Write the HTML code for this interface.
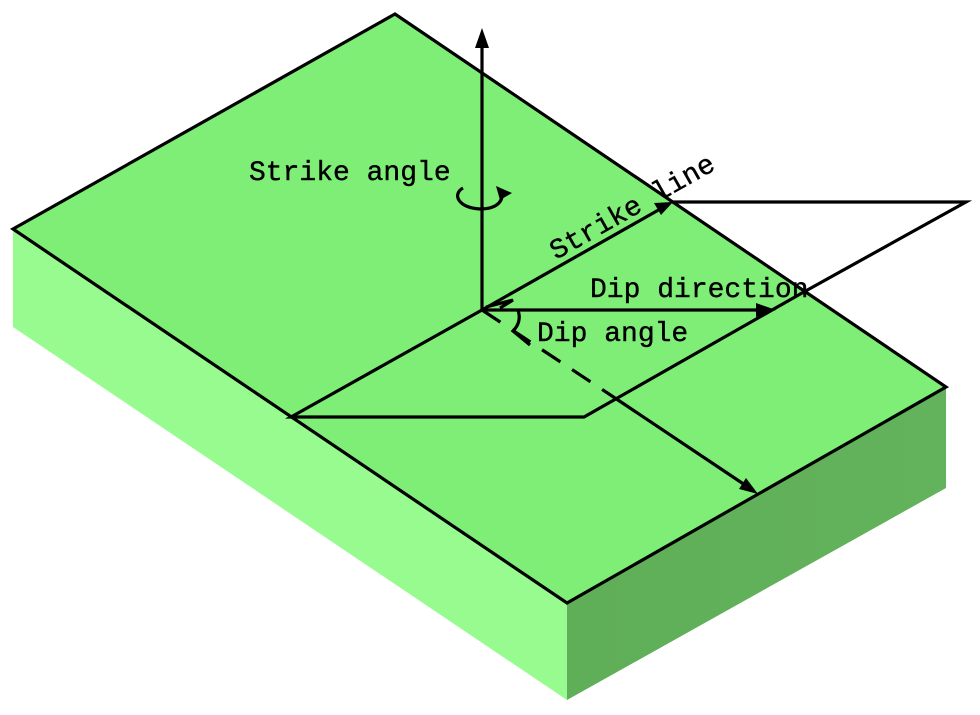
<!DOCTYPE html>
<html><head><style>
html,body{margin:0;padding:0;background:#fff;}
svg{display:block;}
text{font-family:"Liberation Mono",monospace;font-size:28px;fill:#000;stroke:#000;stroke-width:0.4;}
</style></head><body>
<svg width="980" height="715" viewBox="0 0 980 715" xmlns="http://www.w3.org/2000/svg">
<defs>
<linearGradient id="rg" x1="0" y1="0" x2="1" y2="0">
<stop offset="0" stop-color="#5fae58"/><stop offset="1" stop-color="#63b25c"/>
</linearGradient>
</defs>
<polygon points="13,229 567,603 567,700 13,327" fill="#98fb8f"/>
<polygon points="567,603 946,387 946,488 567,700" fill="url(#rg)"/>
<polygon points="13,229 395,14 946,387 567,603" fill="#7fee77" stroke="#000" stroke-width="3.2" stroke-linejoin="miter"/>
<g stroke="#000" stroke-width="3.2" fill="none">
<line x1="482" y1="310" x2="482" y2="40"/>
<line x1="482" y1="310" x2="662" y2="208"/>
<polyline points="672,202 966,202 802,293"/>
<polyline points="482,310 291,417 584,417 802,293"/>
<line x1="482" y1="310" x2="762" y2="310"/>
<line x1="482" y1="310" x2="615" y2="398" stroke-dasharray="22,14"/>
<line x1="615" y1="398" x2="748" y2="487"/>
<polyline points="486,307 513,300 500,308"/>
<path d="M518,310 Q522,322 513,331 L530,345"/>
<path d="M463,188 C452,194 458,208 480,209 C496,209 503,202 502,193"/>
</g>
<g fill="#000">
<polygon points="482,28 475,48 489,48"/>
<polygon points="673,202 654,203 661,215"/>
<polygon points="776,310 756,303 756,317"/>
<polygon points="758,494 746,478 739,489"/>
<polygon points="512,193 496,186 500,200"/>
</g>
<text x="249" y="180">Strike angle</text>
<text x="590" y="297">Dip direction</text>
<text x="537" y="341">Dip angle</text>
<text x="0" y="0" transform="translate(556,260) rotate(-29.5)">Strike line</text>
</svg>
</body></html>
